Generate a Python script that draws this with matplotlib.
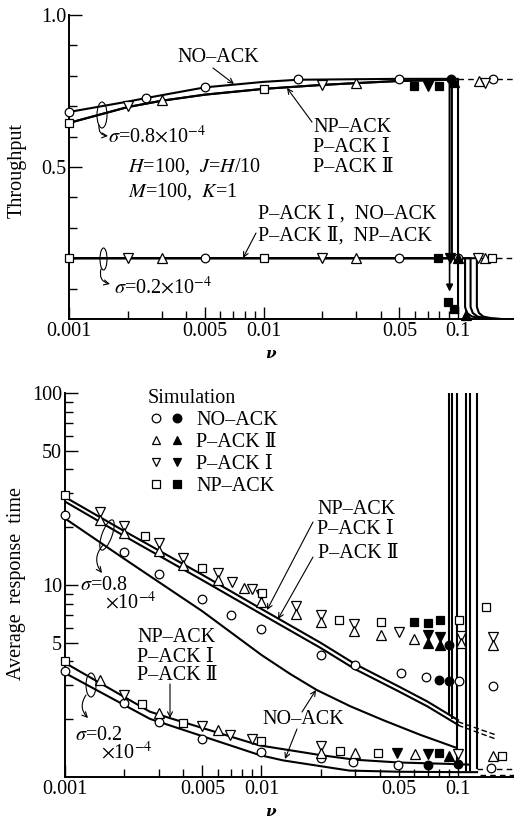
import matplotlib
matplotlib.use("Agg")
import matplotlib.pyplot as plt
from matplotlib.patches import Ellipse
from matplotlib.transforms import IdentityTransform
from matplotlib.ticker import FixedLocator, FixedFormatter, NullFormatter
from matplotlib.legend_handler import HandlerTuple

plt.rcParams['font.family'] = ['Liberation Serif', 'DejaVu Serif']
plt.rcParams['mathtext.fontset'] = 'stix'

# ---------------- throughput (upper panel) ----------------
# sigma = 0.8e-4, analytic curves
thr08_no_x = [0.001, 0.002, 0.0025, 0.005, 0.01, 0.015, 0.05, 0.1, 0.1]
thr08_no_y = [0.681, 0.715, 0.727, 0.762, 0.78, 0.787, 0.79, 0.79, 0.02]
thr08_np_x = [0.001, 0.002, 0.003, 0.005, 0.01, 0.02, 0.03, 0.05, 0.0905]
thr08_np_y = [0.645, 0.697, 0.718, 0.738, 0.757, 0.77, 0.776, 0.783, 0.787]
thr08_sat = [0.0905, 0.093]          # saturation points (vertical drops)
thr08_sat_low = 0.2
# sigma = 0.2e-4, analytic curves (flat, then drop to zero)
thr02_y = [0.2, 0.2, 0.04, 0.02, 0.008, 0.002, 0.0]
thr02_np1_x = [0.001, 0.1087, 0.1087, 0.111, 0.118, 0.135, 0.158]
thr02_np2_x = [0.001, 0.116, 0.116, 0.119, 0.126, 0.143, 0.163]
thr02_no_x = [0.001, 0.125, 0.125, 0.128, 0.135, 0.15, 0.168]

# simulation points, throughput
t_no_open_x = [0.001, 0.0025, 0.005, 0.015, 0.05, 0.151, 0.005, 0.05, 0.1]
t_no_open_y = [0.681, 0.727, 0.763, 0.789, 0.79, 0.79, 0.2, 0.2, 0.2]
t_no_fill_x = [0.092]
t_no_fill_y = [0.79]
t_p1_open_x = [0.002, 0.02, 0.137, 0.002, 0.02, 0.127]
t_p1_open_y = [0.70, 0.77, 0.777, 0.2, 0.2, 0.2]
t_p1_fill_x = [0.070, 0.091]
t_p1_fill_y = [0.767, 0.2]
t_p2_open_x = [0.003, 0.03, 0.128, 0.003, 0.03, 0.137]
t_p2_open_y = [0.72, 0.776, 0.783, 0.2, 0.2, 0.2]
t_p2_fill_x = [0.095, 0.1, 0.11]
t_p2_fill_y = [0.78, 0.2, 0.013]
t_np_open_x = [0.001, 0.0101, 0.001, 0.0101, 0.149]
t_np_open_y = [0.645, 0.756, 0.2, 0.2, 0.2]
t_np_fill_x = [0.0593, 0.080, 0.0793, 0.0889, 0.0955]
t_np_fill_y = [0.767, 0.767, 0.2, 0.055, 0.033]

# ---------------- response time (lower panel) ----------------
rt08_x = [0.001, 0.002, 0.005, 0.01, 0.02, 0.03, 0.05, 0.07, 0.1]
rt08_np_y = [28.7, 19.1, 11.3, 7.5, 5.0, 3.87, 2.96, 2.47, 1.98]
rt08_p2_y = [27.2, 18.0, 10.6, 7.05, 4.7, 3.64, 2.79, 2.33, 1.87]
rt08_tail_x = [0.1, 0.155]
rt08_tail_np = [1.94, 1.66]
rt08_tail_p2 = [1.86, 1.58]
rt08_no_x = [0.001, 0.002, 0.005, 0.01, 0.014, 0.0191, 0.0282, 0.0415, 0.0641, 0.098]
rt08_no_y = [22.2, 13.7, 7.3, 4.32, 3.44, 2.84, 2.34, 1.98, 1.66, 1.42]
rt02_np_x = [0.001, 0.0027, 0.0034, 0.0098, 0.02, 0.03, 0.05, 0.09, 0.1145]
rt02_np_y = [3.93, 2.19, 2.03, 1.46, 1.3, 1.23, 1.19, 1.17, 1.16]
rt02_no_x = [0.001, 0.0027, 0.0098, 0.0129, 0.028, 0.05, 0.1, 0.125]
rt02_no_y = [3.48, 2.01, 1.30, 1.22, 1.08, 1.065, 1.06, 1.06]
# vertical asymptotes (x, lower end)
rt_sat_x = [0.0905, 0.093, 0.099, 0.1105, 0.1145, 0.125]
rt_sat_low = [2.1, 2.0, 1.12, 1.07, 1.07, 1.10]

# simulation points, response time
r_no_open_x = [0.001, 0.002, 0.003, 0.005, 0.007, 0.0099, 0.020, 0.0298, 0.051, 0.069, 0.101, 0.150,
               0.001, 0.002, 0.003, 0.005, 0.0099, 0.020, 0.0292, 0.0497, 0.148]
r_no_open_y = [23.2, 14.8, 11.4, 8.42, 6.98, 5.88, 4.32, 3.83, 3.47, 3.33, 3.16, 2.98,
               3.56, 2.42, 1.94, 1.58, 1.35, 1.25, 1.19, 1.155, 1.11]
r_no_fill_x = [0.080, 0.0905, 0.0905, 0.0705, 0.100]
r_no_fill_y = [3.2, 3.16, 4.87, 1.16, 1.17]
r_p1_open_x = [0.0015, 0.002, 0.003, 0.004, 0.006, 0.00705, 0.0089, 0.01, 0.015, 0.02, 0.0297, 0.0501, 0.103, 0.15,
               0.002, 0.005, 0.0069, 0.0089, 0.02, 0.1]
r_p1_open_y = [23.9, 20.4, 16.5, 13.9, 11.6, 10.4, 9.5, 8.9, 7.75, 7.0, 6.3, 5.71, 5.45, 5.33,
               2.67, 1.84, 1.66, 1.58, 1.45, 1.32]
r_p1_fill_x = [0.0706, 0.081, 0.0487, 0.0705]
r_p1_fill_y = [5.47, 5.33, 1.33, 1.32]
r_p2_open_x = [0.0015, 0.002, 0.003, 0.004, 0.006, 0.0081, 0.01, 0.015, 0.02, 0.0297, 0.0404, 0.0597, 0.103, 0.15,
               0.0015, 0.003, 0.006, 0.02, 0.0299, 0.0604, 0.151]
r_p2_open_y = [21.9, 18.7, 15.1, 12.7, 10.6, 9.6, 8.15, 7.1, 6.42, 5.76, 5.5, 5.21, 4.98, 4.88,
               3.2, 2.16, 1.76, 1.33, 1.34, 1.32, 1.28]
r_p2_fill_x = [0.0706, 0.081, 0.090]
r_p2_fill_y = [5.0, 4.88, 1.29]
r_np_open_x = [0.001, 0.00254, 0.005, 0.0101, 0.0249, 0.0404, 0.101, 0.139,
               0.001, 0.00247, 0.00397, 0.0099, 0.0251, 0.0393, 0.168]
r_np_open_y = [29.4, 17.9, 12.2, 9.1, 6.6, 6.44, 6.6, 7.71,
               4.02, 2.39, 1.92, 1.54, 1.37, 1.34, 1.29]
r_np_fill_x = [0.0597, 0.0706, 0.081, 0.080]
r_np_fill_y = [6.44, 6.31, 6.6, 1.33]

xticks = [0.001, 0.005, 0.01, 0.05, 0.1]
xtick_labels = ['0.001', '0.005', '0.01', '0.05', '0.1']
xminor = [0.002, 0.003, 0.004, 0.006, 0.007, 0.008, 0.009,
          0.02, 0.03, 0.04, 0.06, 0.07, 0.08, 0.09]

W, H = 514, 824
FS = 14.5
fig = plt.figure(figsize=(W / 100, H / 100), dpi=100)


def ff(x, y):
    # pixel position (from top-left) -> figure fraction
    return x / W, 1 - y / H


def marks(ax, x, y, m, filled, ms):
    ax.plot(x, y, ls='none', marker=m, ms=ms, mew=0.9, mec='black',
            mfc='black' if filled else 'white', zorder=5, clip_on=False)


def style_axes(ax):
    ax.spines['top'].set_visible(False)
    ax.spines['right'].set_visible(False)
    ax.spines['left'].set_linewidth(1.4)
    ax.spines['bottom'].set_linewidth(1.4)
    ax.set_xscale('log')
    ax.xaxis.set_major_locator(FixedLocator(xticks))
    ax.xaxis.set_major_formatter(FixedFormatter(xtick_labels))
    ax.xaxis.set_minor_locator(FixedLocator(xminor))
    ax.xaxis.set_minor_formatter(NullFormatter())
    ax.tick_params(which='major', direction='in', length=9, width=1.0, labelsize=FS, pad=2)
    ax.tick_params(which='minor', direction='in', length=6, width=1.0)


def note(x, y, s, ha='left', **kw):
    fx, fy = ff(x, y)
    fig.text(fx, fy, s, ha=ha, va='center', fontsize=kw.pop('fontsize', FS), **kw)


def arrow(x0, y0, x1, y1, rad=0.0, style='->'):
    fig.add_artist(matplotlib.patches.FancyArrowPatch(
        (x0, H - y0), (x1, H - y1), transform=IdentityTransform(),
        arrowstyle=style, mutation_scale=9, lw=0.8, color='black',
        connectionstyle=f'arc3,rad={rad}', shrinkA=0, shrinkB=0))


def ellipse(x, y, w, h, angle=0):
    fig.add_artist(Ellipse((x, H - y), w, h, angle=angle, transform=IdentityTransform(),
                           fill=False, lw=0.8, color='black'))


LW = 1.5

# ---------------- upper panel ----------------
ax1 = fig.add_axes([69 / W, 1 - 319 / H, 445 / W, 304 / H])
style_axes(ax1)
ax1.set_xlim(0.001, 0.194)
ax1.set_ylim(0, 1.0)
ax1.yaxis.set_major_locator(FixedLocator([0.5, 1.0]))
ax1.yaxis.set_major_formatter(FixedFormatter(['0.5', '1.0']))
ax1.yaxis.set_minor_locator(FixedLocator([0.1, 0.2, 0.3, 0.4, 0.6, 0.7, 0.8, 0.9]))

ax1.plot(thr08_no_x, thr08_no_y, color='black', lw=LW)
for xs in thr08_sat:
    ax1.plot(thr08_np_x[:-1] + [xs, xs], thr08_np_y[:-1] + [thr08_np_y[-1], thr08_sat_low],
             color='black', lw=LW)
ax1.annotate('', xy=(thr08_sat[0], 0.09), xytext=(thr08_sat[0], thr08_sat_low),
             arrowprops=dict(arrowstyle='-|>', lw=1.2, color='black', mutation_scale=10,
                             shrinkA=0, shrinkB=0))
for xs in (thr02_np1_x, thr02_np2_x, thr02_no_x):
    ax1.plot(xs, thr02_y, color='black', lw=LW)
ax1.plot([0.1, 0.194], [0.79, 0.79], color='black', lw=1.0, ls=(0, (4, 3)))
ax1.plot([0.125, 0.194], [0.2, 0.2], color='black', lw=1.0, ls=(0, (4, 3)))

marks(ax1, t_no_open_x, t_no_open_y, 'o', False, 6.2)
marks(ax1, t_no_fill_x, t_no_fill_y, 'o', True, 6.2)
marks(ax1, t_p1_open_x, t_p1_open_y, 'v', False, 6.5)
marks(ax1, t_p1_fill_x, t_p1_fill_y, 'v', True, 6.5)
marks(ax1, t_p2_open_x, t_p2_open_y, '^', False, 6.5)
marks(ax1, t_p2_fill_x, t_p2_fill_y, '^', True, 6.5)
marks(ax1, t_np_open_x, t_np_open_y, 's', False, 5.6)
marks(ax1, t_np_fill_x, t_np_fill_y, 's', True, 5.6)

note(17, 170, 'Throughput', ha='center', rotation=90)
note(270, 354, 'ν', ha='center', family='DejaVu Serif', style='italic', weight='bold', fontsize=11)

note(218, 57, 'NO–ACK', ha='center')
arrow(213, 68, 234, 84)
note(313, 127, 'NP–ACK')
note(313, 147, 'P–ACK Ⅰ')
note(313, 167, 'P–ACK Ⅱ')
arrow(312, 122, 287, 88)
note(128, 167, r'$H$=100,  $J$=$H$/10')
note(128, 192, r'$M$=100,  $K$=1')
note(258, 214, 'P–ACK Ⅰ ,  NO–ACK')
note(258, 236, 'P–ACK Ⅱ,  NP–ACK')
arrow(256, 233, 243, 258)
note(108, 137, r'$\sigma$=0.8$\times$10$^{-4}$')
note(114, 288, r'$\sigma$=0.2$\times$10$^{-4}$')
ellipse(102, 115, 10, 26)
arrow(99, 125, 108, 136, rad=0.5)
ellipse(103.5, 259, 7, 22)
arrow(101, 269, 110, 284, rad=0.5)

# ---------------- lower panel ----------------
ax2 = fig.add_axes([65 / W, 1 - 777 / H, 449 / W, 384 / H])
style_axes(ax2)
ax2.set_yscale('log')
ax2.set_xlim(0.001, 0.1928)
ax2.set_ylim(1, 100)
ax2.yaxis.set_major_locator(FixedLocator([5, 10, 50, 100]))
ax2.yaxis.set_major_formatter(FixedFormatter(['5', '10', '50', '100']))
ax2.yaxis.set_minor_locator(FixedLocator([2, 3, 4, 6, 7, 8, 9, 20, 30, 40, 60, 70, 80, 90]))
ax2.yaxis.set_minor_formatter(NullFormatter())

ax2.plot(rt08_x, rt08_np_y, color='black', lw=LW)
ax2.plot(rt08_x, rt08_p2_y, color='black', lw=LW)
ax2.plot(rt08_tail_x, rt08_tail_np, color='black', lw=1.0, ls=(0, (4, 2)))
ax2.plot(rt08_tail_x, rt08_tail_p2, color='black', lw=1.0, ls=(0, (4, 2)))
ax2.plot(rt08_no_x, rt08_no_y, color='black', lw=LW)
ax2.plot(rt02_np_x, rt02_np_y, color='black', lw=LW)
ax2.plot(rt02_no_x, rt02_no_y, color='black', lw=LW)
ax2.vlines(rt_sat_x, rt_sat_low, 100, color='black', lw=LW)
ax2.plot([0.125, 0.1928], [1.10, 1.10], color='black', lw=1.0, ls=(0, (4, 3)))
ax2.plot([0.13, 0.1928], [1.025, 1.025], color='black', lw=1.0, ls=(0, (4, 3)))

marks(ax2, r_no_open_x, r_no_open_y, 'o', False, 6.2)
marks(ax2, r_no_fill_x, r_no_fill_y, 'o', True, 6.2)
marks(ax2, r_p1_open_x, r_p1_open_y, 'v', False, 6.5)
marks(ax2, r_p1_fill_x, r_p1_fill_y, 'v', True, 6.5)
marks(ax2, r_p2_open_x, r_p2_open_y, '^', False, 6.5)
marks(ax2, r_p2_fill_x, r_p2_fill_y, '^', True, 6.5)
marks(ax2, r_np_open_x, r_np_open_y, 's', False, 5.6)
marks(ax2, r_np_fill_x, r_np_fill_y, 's', True, 5.6)

# legend of simulation symbols
kinds = [('o', 'NO–ACK'), ('^', 'P–ACK Ⅱ'), ('v', 'P–ACK Ⅰ'), ('s', 'NP–ACK')]
handles = []
for m, _ in kinds:
    ms = 5.6 if m == 's' else 6.2
    h_open, = ax2.plot([], [], ls='none', marker=m, ms=ms, mfc='white', mec='black', mew=0.9)
    h_fill, = ax2.plot([], [], ls='none', marker=m, ms=ms, mfc='black', mec='black', mew=0.9)
    handles.append((h_open, h_fill))
leg = ax2.legend(handles, [k[1] for k in kinds], handler_map={tuple: HandlerTuple(ndivide=None, pad=0.3)},
                 title='Simulation', loc='upper left', bbox_to_anchor=ff(148, 389),
                 bbox_transform=fig.transFigure, frameon=False, fontsize=FS, title_fontsize=FS,
                 handlelength=1.8, handletextpad=0.6, labelspacing=0.15, borderpad=0,
                 borderaxespad=0, alignment='left')

note(17, 583, 'Average  response  time', ha='center', rotation=90)
note(270, 812, 'ν', ha='center', family='DejaVu Serif', style='italic', weight='bold', fontsize=11)

note(317, 510, 'NP–ACK')
note(317, 530, 'P–ACK Ⅰ')
note(318, 553, 'P–ACK Ⅱ')
arrow(313, 522, 267, 610)
arrow(313, 557, 278, 619)
note(80, 585, r'$\sigma$=0.8')
note(105, 603, r'$\times$10$^{-4}$')
ellipse(107, 535, 10, 32, angle=-20)
arrow(103, 545, 102, 573, rad=0.4)
note(75, 735, r'$\sigma$=0.2')
note(101, 753, r'$\times$10$^{-4}$')
ellipse(91, 685, 10, 24)
arrow(86, 695, 88, 718, rad=0.4)
note(137, 638, 'NP–ACK')
note(137, 657, 'P–ACK Ⅰ')
note(137, 676, 'P–ACK Ⅱ')
arrow(170, 684, 170, 718)
note(303, 720, 'NO–ACK', ha='center')
arrow(302, 712, 316, 690)
arrow(297, 729, 285, 759)

fig.savefig('out.png', dpi=100)
